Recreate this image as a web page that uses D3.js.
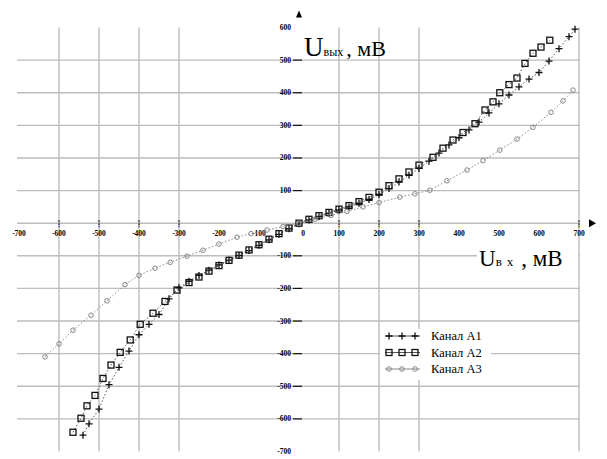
<!DOCTYPE html>
<html>
<head>
<meta charset="utf-8">
<script src="https://cdn.jsdelivr.net/npm/d3@7"></script>
<style>
  body { margin: 0; background: #fff; }
  text { font-family: "Liberation Serif", serif; }
</style>
</head>
<body>
<svg id="chart" width="607" height="459"></svg>
<script>
// channel A1 (crosses)
const a1X = [-540,-525,-500,-475,-450,-425,-400,-375,-350,-325,-300,-275,-250,-225,-200,-175,-150,-125,-100,-75,-50,-25,0,25,50,75,100,125,150,175,200,225,250,275,300,325,350,375,400,425,450,475,500,525,550,575,600,625,650,675,690];
const a1Y = [-650,-615,-570,-495,-442,-392,-342,-310,-280,-232,-198,-178,-160,-144,-128,-113,-99,-84,-68,-51,-34,-17,-2,10,20,30,40,50,61,73,88,106,126,147,168,190,215,240,262,286,310,338,366,393,418,442,462,497,535,572,595];

// channel A2 (squares)
const a2X = [-565,-545,-530,-510,-490,-470,-447,-422,-397,-365,-335,-305,-275,-250,-225,-200,-175,-150,-125,-100,-75,-50,-25,0,25,50,75,100,125,150,175,200,225,250,275,300,335,360,385,410,440,465,485,502,525,545,565,585,605,627];
const a2Y = [-641,-598,-560,-528,-476,-435,-396,-358,-310,-276,-240,-205,-182,-165,-147,-130,-114,-98,-82,-66,-49,-32,-15,0,12,23,33,43,54,66,79,95,115,136,157,178,202,230,255,278,305,347,372,400,425,445,490,521,540,561];

// channel A3 (circles)
const a3X = [-635,-600,-565,-520,-480,-435,-400,-360,-322,-280,-240,-200,-155,-120,-80,-40,0,40,80,120,160,200,252,290,327,370,420,460,502,545,585,630,660,685];
const a3Y = [-410,-370,-328,-282,-238,-188,-160,-138,-120,-101,-83,-64,-43,-32,-21,-10,0,12,24,36,50,63,80,90,101,130,163,192,224,258,294,340,375,408];

const xTicks = [-700,-600,-500,-400,-300,-200,-100,0,100,200,300,400,500,600,700];
const yTicks = [600,500,400,300,200,100,-100,-200,-300,-400,-500,-600,-700];
const xGrid = [-600,-500,-400,-300,100,200,300,700];
const yGrid = [500,400,300,200,100,0,-100,-200,-300,-400,-500,-600];
const seriesNames = ['Канал А1','Канал А2','Канал А3'];

const svg = d3.select('#chart');
const x = d3.scaleLinear().domain([-700, 700]).range([19, 579]);
const y = d3.scaleLinear().domain([-700, 600]).range([451.5, 27.5]);

svg.append('rect').attr('width', 607).attr('height', 459).attr('fill', '#fff');

// grid
const grid = svg.append('g').attr('stroke', '#bdbdbd').attr('stroke-width', 1.4);
grid.selectAll('.hg').data(yGrid).join('line')
  .attr('class', 'hg')
  .attr('x1', x(-700) - 2).attr('x2', x(700) + 1)
  .attr('y1', d => y(d)).attr('y2', d => y(d));
grid.selectAll('.vg').data(xGrid).join('line')
  .attr('class', 'vg')
  .attr('x1', d => x(d)).attr('x2', d => x(d))
  .attr('y1', y(600)).attr('y2', y(-700));

// x ticks on the axis
svg.append('g').selectAll('line').data(xGrid).join('line')
  .attr('x1', d => x(d)).attr('x2', d => x(d))
  .attr('y1', y(0) - 3).attr('y2', y(0) + 4)
  .attr('stroke', '#222').attr('stroke-width', 1.2).attr('stroke-dasharray', '2,1');

// axis arrows
svg.append('path')
  .attr('d', `M${x(700) + 10},${y(0) - 4} l7,4 l-7,4 z`)
  .attr('fill', '#000');
svg.append('path')
  .attr('d', `M${x(0) - 3},${y(600) - 10} l3,-7 l3,7 z`)
  .attr('fill', '#000');

// tick labels
svg.append('g').selectAll('text').data(xTicks).join('text')
  .attr('x', d => d === 0 ? x(d) + 4 : x(d))
  .attr('y', y(0) + 13)
  .attr('text-anchor', 'middle')
  .attr('font-size', 7.5)
  .attr('font-weight', 'bold')
  .text(d => d);

const yt = svg.append('g');
yt.selectAll('text').data(yTicks).join('text')
  .attr('x', x(0) - 8)
  .attr('y', d => y(d) + 2.5)
  .attr('text-anchor', 'end')
  .attr('font-size', 7.5)
  .attr('font-weight', 'bold')
  .text(d => d);
yt.selectAll('line').data(yTicks.filter(d => d !== 600 && d !== -700)).join('line')
  .attr('x1', x(0) - 6).attr('x2', x(0) + 3)
  .attr('y1', d => y(d)).attr('y2', d => y(d))
  .attr('stroke', '#111').attr('stroke-width', 1.2);

// axis titles
const yTitle = svg.append('text').attr('x', 304).attr('y', 56).attr('font-size', 27);
yTitle.append('tspan').text('U');
yTitle.append('tspan').attr('font-size', 12).text('вых');
yTitle.append('tspan').attr('font-size', 22).attr('dx', 3).text(', мВ');

svg.append('rect').attr('x', 477).attr('y', 246).attr('width', 101).attr('height', 22).attr('fill', '#fff');
const xTitle = svg.append('text').attr('x', 479).attr('y', 266).attr('font-size', 23);
xTitle.append('tspan').text('U');
xTitle.append('tspan').attr('font-size', 13).attr('letter-spacing', 5).text('вх');
xTitle.append('tspan').attr('font-size', 23).attr('dx', 3).text(', мВ');

// series
const line = d3.line().x(d => x(d[0])).y(d => y(d[1]));
const a1 = d3.zip(a1X, a1Y);
const a2 = d3.zip(a2X, a2Y);
const a3 = d3.zip(a3X, a3Y);

const addMarker = (sel, type, colour) => {
  if (type === 'plus') {
    sel.append('path').attr('d', 'M-3.5,0H3.5M0,-3.5V3.5')
      .attr('stroke', colour).attr('stroke-width', 1.3);
  } else if (type === 'square') {
    sel.append('rect').attr('x', -3).attr('y', -3).attr('width', 6).attr('height', 6)
      .attr('fill', 'none').attr('stroke', colour).attr('stroke-width', 1.3);
  } else {
    sel.append('circle').attr('r', 2.3)
      .attr('fill', 'none').attr('stroke', colour).attr('stroke-width', 1);
  }
};

const seriesStyles = [
  { data: a1, type: 'plus', colour: '#111', lineColour: '#555' },
  { data: a2, type: 'square', colour: '#111', lineColour: '#555' },
  { data: a3, type: 'circle', colour: '#888', lineColour: '#888' }
];

seriesStyles.forEach(s => {
  svg.append('path').datum(s.data)
    .attr('d', line)
    .attr('fill', 'none')
    .attr('stroke', s.lineColour)
    .attr('stroke-width', 1)
    .attr('stroke-dasharray', '1.5,2');
  svg.append('g').selectAll('g').data(s.data).join('g')
    .attr('transform', d => `translate(${x(d[0])},${y(d[1])})`)
    .call(addMarker, s.type, s.colour);
});

// legend
const legend = svg.append('g');
legend.append('rect').attr('x', 380).attr('y', 329).attr('width', 111).attr('height', 51).attr('fill', '#fff');
seriesStyles.forEach((s, i) => {
  const ly = 336 + i * 16.5;
  legend.append('line')
    .attr('x1', 385).attr('x2', 420).attr('y1', ly).attr('y2', ly)
    .attr('stroke', s.lineColour).attr('stroke-width', 1);
  legend.append('g').selectAll('g').data([389, 402, 415]).join('g')
    .attr('transform', d => `translate(${d},${ly})`)
    .call(addMarker, s.type, s.colour);
  legend.append('text')
    .attr('x', 431).attr('y', ly + 4)
    .attr('font-size', 12.5)
    .text(seriesNames[i]);
});
</script>
</body>
</html>
